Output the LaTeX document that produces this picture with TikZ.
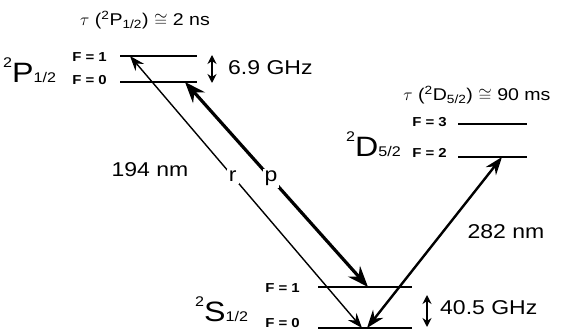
\documentclass[tikz,border=0pt]{standalone}
\usepackage{fontspec}
\setmainfont{Liberation Sans}[FakeStretch=1.15]
\usetikzlibrary{arrows.meta}
\newcommand\termsym[3]{\raisebox{15pt}{\fontsize{14}{14}\selectfont #1}{\fontsize{28}{28}\selectfont #2}{\fontsize{14}{14}\selectfont #3}}
\begin{document}
\begin{tikzpicture}[
  x=1pt, y=-1pt,
  level/.style={line width=1.7pt},
  flabel/.style={anchor=east, inner sep=0pt, font=\fontsize{13}{13}\selectfont\bfseries},
  term/.style={anchor=base west, inner sep=0pt},
  lbl/.style={inner sep=0pt, font=\fontsize{20}{20}\selectfont},
  life/.style={inner sep=0pt, font=\fontsize{17}{17}\selectfont},
  thinbeam/.style={line width=1.4pt, {Stealth[length=15pt,width=11pt,inset=5pt]}-{Stealth[length=15pt,width=11pt,inset=5pt]}},
  thickbeam/.style={line width=3.2pt, {Stealth[length=21pt,width=16pt,inset=7pt]}-{Stealth[length=21pt,width=16pt,inset=7pt]}},
  midbeam/.style={line width=2.4pt, {Stealth[length=18pt,width=13pt,inset=6pt]}-{Stealth[length=18pt,width=13pt,inset=6pt]}},
  split/.style={line width=1.8pt, {Stealth[length=9pt,width=9pt]}-{Stealth[length=9pt,width=9pt]}},
  gap/.style={fill=white, inner sep=2pt, font=\fontsize{20}{20}\selectfont}
]
\useasboundingbox (0,0) rectangle (563,331);

\coordinate (P1L) at (120,56);  \coordinate (P1R) at (197,56);
\coordinate (P0L) at (120,82);  \coordinate (P0R) at (197,82);
\coordinate (D3L) at (458,124); \coordinate (D3R) at (527,124);
\coordinate (D2L) at (458,157); \coordinate (D2R) at (527,157);
\coordinate (S1L) at (318,287); \coordinate (S1R) at (412,287);
\coordinate (S0L) at (318,328); \coordinate (S0R) at (412,328);

\draw[level] (P1L) -- (P1R);
\draw[level] (P0L) -- (P0R);
\draw[level] (D3L) -- (D3R);
\draw[level] (D2L) -- (D2R);
\draw[level] (S1L) -- (S1R);
\draw[level] (S0L) -- (S0R);

\node[term] (termP) at (3,83)    {\termsym{2}{P}{1/2}};
\node[term] (termD) at (346,157) {\termsym{2}{D}{5/2}};
\node[term] (termS) at (195,322) {\termsym{2}{S}{1/2}};

\node[flabel] (fP1) at (107,57)  {F = 1};
\node[flabel] (fP0) at (107,80)  {F = 0};
\node[flabel] (fD3) at (447,122) {F = 3};
\node[flabel] (fD2) at (447,153) {F = 2};
\node[flabel] (fS1) at (300,288) {F = 1};
\node[flabel] (fS0) at (300,323) {F = 0};

\node[life] (tauP) at (145,20) {$\tau$ (\textsuperscript{2}P\textsubscript{1/2}) $\cong$ 2 ns};
\node[life] (tauD) at (477,95) {$\tau$ (\textsuperscript{2}D\textsubscript{5/2}) $\cong$ 90 ms};

\coordinate (hfPtop) at (212,55);  \coordinate (hfPbot) at (212,83);
\coordinate (hfStop) at (427,295); \coordinate (hfSbot) at (427,327);
\draw[split] (hfPtop) -- (hfPbot);
\draw[split] (hfStop) -- (hfSbot);
\node[lbl, anchor=west] (hfP) at (228,68)  {6.9 GHz};
\node[lbl, anchor=west] (hfS) at (440,308) {40.5 GHz};

\coordinate (rtop) at (130,56);  \coordinate (rbot) at (362,328);
\coordinate (ptop) at (185,82);  \coordinate (pbot) at (368,287);
\coordinate (dtop) at (502,157); \coordinate (dbot) at (367,328);

\draw[thinbeam]  (rbot) -- node[gap, pos=0.557] (r) {r} (rtop);
\draw[thickbeam] (ptop) -- node[gap, pos=0.47] (p) {p} (pbot);
\draw[midbeam]   (dbot) -- (dtop);

\node[lbl] (uv)  at (150,170) {194 nm};
\node[lbl] (vis) at (506,232) {282 nm};
\end{tikzpicture}
\end{document}
